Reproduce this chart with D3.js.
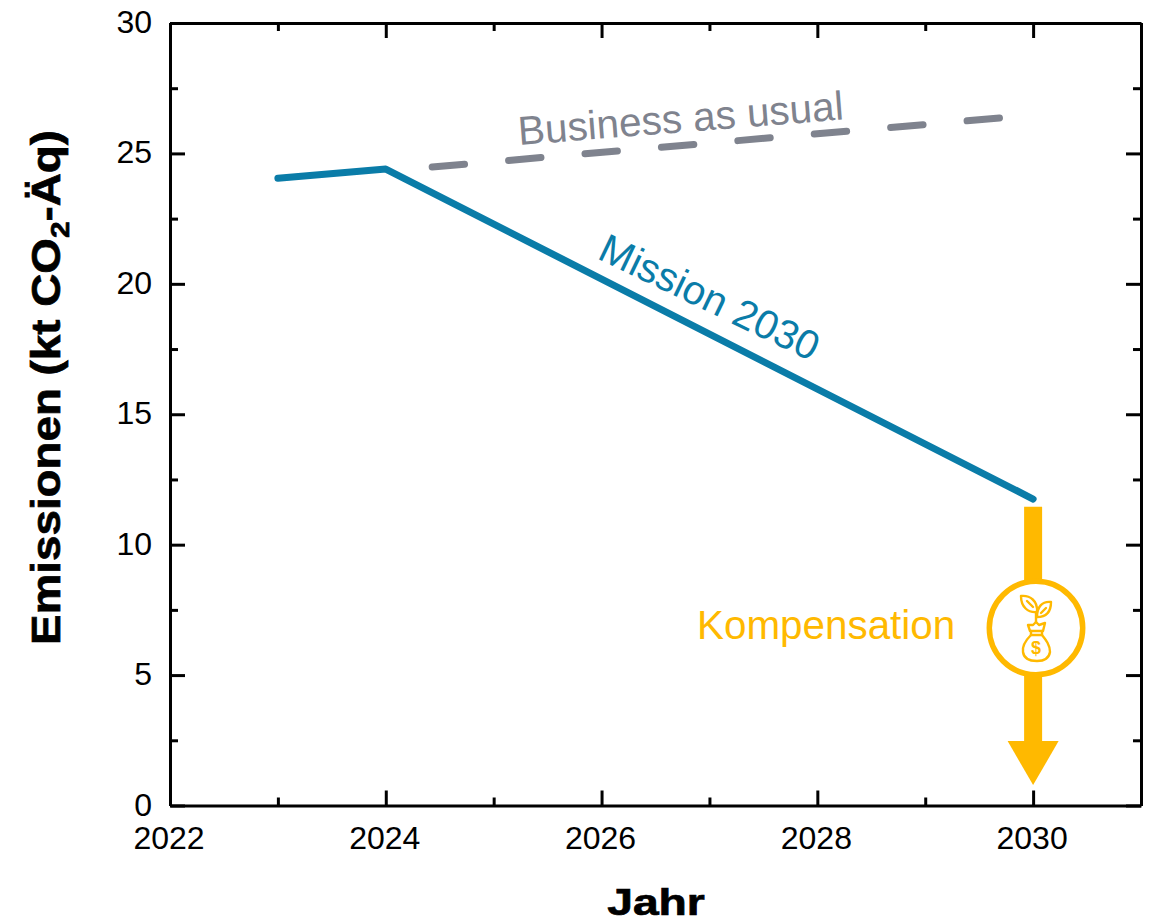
<!DOCTYPE html>
<html><head><meta charset="utf-8">
<script src="https://cdn.jsdelivr.net/npm/d3@7"></script>
<style>html,body{margin:0;background:#fff}svg{display:block}text{font-family:"Liberation Sans",Arial,sans-serif}</style>
</head><body><svg id="c" width="1150" height="923"></svg>
<script>
const missionYears=[2023,2024,2030];
const missionValues=[24.05,24.4,11.75];
const bauYears=[2024.43,2029.7];
const bauValues=[24.48,26.36];
const arrowYears=[2030,2030];
const arrowValues=[11.45,2.47];
const xTicks=[2022,2024,2026,2028,2030];
const xMinor=[2023,2025,2027,2029,2031];
const yTicks=[0,5,10,15,20,25,30];
const yMinor=[2.5,7.5,12.5,17.5,22.5,27.5];
const amber="#FFB900",blue="#0A7CA8",grey="#7F838E";
const svg=d3.select("#c");
const x=d3.scaleLinear().domain([2022,2031]).range([170,1141]);
const y=d3.scaleLinear().domain([0,30]).range([805.5,23]);
const axes=svg.append("g");
function ax(gen,tr,major,minor){
  const g=axes.append("g").attr("transform",tr);
  g.call(gen.tickValues(major).tickSize(15).tickSizeOuter(0).tickFormat(""));
  g.selectAll("line,path").attr("stroke","#000").attr("stroke-width",3);
  const m=axes.append("g").attr("transform",tr);
  m.call(gen.tickValues(minor).tickSize(8).tickSizeOuter(0).tickFormat(""));
  m.selectAll("line").attr("stroke","#000").attr("stroke-width",3);
  m.select("path").remove();
}
// ticks point inward on all four sides
ax(d3.axisTop(x),"translate(0,805.5)",xTicks,xMinor);
ax(d3.axisBottom(x),"translate(0,23)",xTicks,xMinor);
ax(d3.axisRight(y),"translate(170,0)",yTicks,yMinor);
ax(d3.axisLeft(y),"translate(1141,0)",yTicks,yMinor);
// tick labels
svg.append("g").selectAll("text").data(xTicks).join("text").attr("x",d=>x(d)-1).attr("y",849).attr("text-anchor","middle").attr("font-size",32).text(d=>d);
svg.append("g").selectAll("text").data(yTicks).join("text").attr("x",152).attr("y",d=>y(d)+10).attr("text-anchor","end").attr("font-size",32).text(d=>d);
// axis titles
svg.append("text").attr("transform","translate(656,915) scale(1.25,1)").attr("text-anchor","middle").attr("font-size",37).attr("font-weight","bold").attr("stroke","#000").attr("stroke-width",0.7).text("Jahr");
const yt=svg.append("text").attr("transform","translate(60,387.5) rotate(-90) scale(1.144,1)").attr("text-anchor","middle").attr("font-size",40).attr("font-weight","bold").attr("stroke","#000").attr("stroke-width",0.7);
yt.append("tspan").text("Emissionen (kt CO");
yt.append("tspan").attr("font-size",26).attr("dy",9).text("2");
yt.append("tspan").attr("dy",-9).text("-Äq)");
const line=d3.line();
const pts=(a,b)=>a.map((d,i)=>[x(d),y(b[i])]);
svg.append("path").attr("d",line(pts(bauYears,bauValues))).attr("fill","none").attr("stroke",grey).attr("stroke-width",7).attr("stroke-linecap","round").attr("stroke-dasharray","32.5 44.2");
svg.append("path").attr("d",line(pts(missionYears,missionValues))).attr("fill","none").attr("stroke",blue).attr("stroke-width",7).attr("stroke-linecap","round").attr("stroke-linejoin","round");
// labels
svg.append("text").attr("transform","translate(519,145) rotate(-4.5)").attr("font-size",40.5).attr("fill",grey).text("Business as usual");
svg.append("text").attr("transform","translate(596,258) rotate(25.7)").attr("font-size",40.5).attr("fill",blue).text("Mission 2030");
svg.append("text").attr("x",697).attr("y",639).attr("font-size",40.4).attr("fill",amber).text("Kompensation");
// arrow
const ax0=x(arrowYears[0]);
svg.append("line").attr("x1",ax0).attr("x2",ax0).attr("y1",y(arrowValues[0])).attr("y2",y(arrowValues[1])).attr("stroke",amber).attr("stroke-width",18);
svg.append("path").attr("d",d3.line()([[ax0-25.5,y(arrowValues[1])],[ax0+25.5,y(arrowValues[1])],[ax0,y(arrowValues[1])+44]])).attr("fill",amber);
// badge
const b=svg.append("g").attr("transform","translate(1036,628)");
b.append("circle").attr("r",46.7).attr("fill","#fff").attr("stroke",amber).attr("stroke-width",5.5);
const ic=b.append("g").attr("fill","none").attr("stroke",amber).attr("stroke-width",2.4).attr("stroke-linejoin","round").attr("stroke-linecap","round");
ic.append("path").attr("d","M-15,-32 C-6,-33 2,-27 1,-16 C-8,-15 -15,-21 -15,-32 Z");
ic.append("path").attr("d","M-9,-27 L-3,-21");
ic.append("path").attr("d","M15,-26 C6,-27 1,-21 1,-11 C10,-11 15,-16 15,-26 Z");
ic.append("path").attr("d","M5,-15 L10,-20");
ic.append("path").attr("d","M0,-16 L0,-6");
ic.append("path").attr("d","M-8,-3 L-6,3 L7,3 L9,-5 L3,-3 L0,-6 L-3,-3 Z");
ic.append("path").attr("d","M-5,3 L-5,7 L6,7 L6,3");
ic.append("path").attr("d","M-5,7 C-10,12 -14,18 -13,24 C-12,31 -6,33 1,33 C8,33 13,30 14,24 C14,17 10,12 6,7");
b.append("text").attr("x",0).attr("y",26).attr("text-anchor","middle").attr("font-size",18).attr("font-weight","bold").attr("fill",amber).text("$");
</script></body></html>
